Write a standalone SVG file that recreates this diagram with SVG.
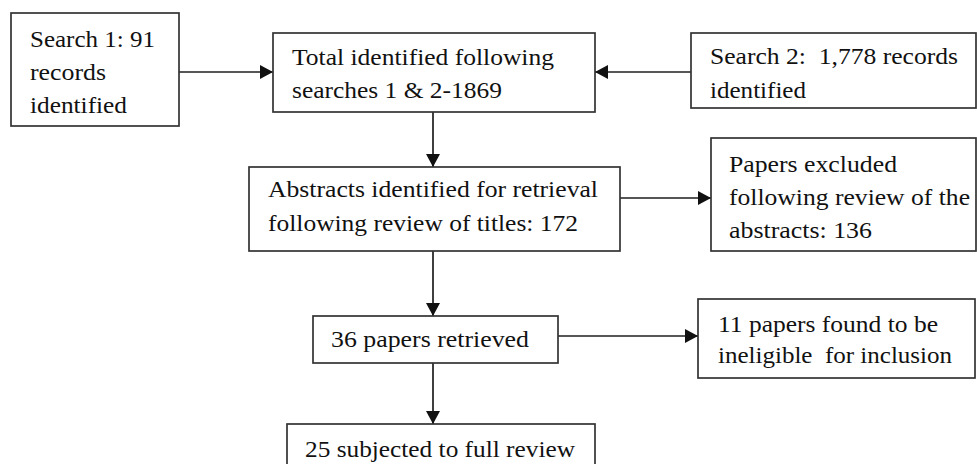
<svg xmlns="http://www.w3.org/2000/svg" width="977" height="464" viewBox="0 0 977 464">
<style>
.box{fill:#fff;stroke:#333;stroke-width:1.7}
.t{font-family:"Liberation Serif","Times New Roman",serif;font-size:24px;fill:#111}
.c{stroke:#1e1e1e;stroke-width:1.7;fill:none}
</style>
<defs>
<marker id="ah" markerUnits="userSpaceOnUse" markerWidth="14" markerHeight="14" refX="13" refY="7" orient="auto">
<path d="M0,0 L13,7 L0,14 Z" fill="#111"/>
</marker>
</defs>
<rect width="977" height="464" fill="#fff"/>
<g id="connectors">
<line class="c" x1="179" y1="72" x2="273" y2="72" marker-end="url(#ah)"/>
<line class="c" x1="691" y1="72" x2="595" y2="72" marker-end="url(#ah)"/>
<line class="c" x1="433" y1="112" x2="433" y2="167" marker-end="url(#ah)"/>
<line class="c" x1="620" y1="198" x2="711" y2="198" marker-end="url(#ah)"/>
<line class="c" x1="433" y1="251" x2="433" y2="316" marker-end="url(#ah)"/>
<line class="c" x1="558" y1="336" x2="698" y2="336" marker-end="url(#ah)"/>
<line class="c" x1="433" y1="363" x2="433" y2="424" marker-end="url(#ah)"/>
</g>
<g id="search1">
<rect class="box" x="11" y="13" width="168" height="113"/>
<text class="t" x="30" y="47" textLength="125" lengthAdjust="spacingAndGlyphs">Search 1: 91</text>
<text class="t" x="30" y="80" textLength="76" lengthAdjust="spacingAndGlyphs">records</text>
<text class="t" x="30" y="113" textLength="97" lengthAdjust="spacingAndGlyphs">identified</text>
</g>
<g id="total">
<rect class="box" x="273" y="33" width="322" height="79"/>
<text class="t" x="292" y="65" textLength="262" lengthAdjust="spacingAndGlyphs">Total identified following</text>
<text class="t" x="292" y="98" textLength="210" lengthAdjust="spacingAndGlyphs">searches 1 &amp; 2-1869</text>
</g>
<g id="search2">
<rect class="box" x="691" y="33" width="285" height="75"/>
<text class="t" x="710" y="64" textLength="248" lengthAdjust="spacingAndGlyphs" xml:space="preserve">Search 2:  1,778 records</text>
<text class="t" x="710" y="98" textLength="96" lengthAdjust="spacingAndGlyphs">identified</text>
</g>
<g id="abstracts">
<rect class="box" x="249" y="167" width="371" height="84"/>
<text class="t" x="268" y="197" textLength="330" lengthAdjust="spacingAndGlyphs">Abstracts identified for retrieval</text>
<text class="t" x="268" y="231" textLength="310" lengthAdjust="spacingAndGlyphs">following review of titles: 172</text>
</g>
<g id="excluded">
<rect class="box" x="711" y="138" width="265" height="113"/>
<text class="t" x="729" y="172" textLength="168" lengthAdjust="spacingAndGlyphs">Papers excluded</text>
<text class="t" x="729" y="205" textLength="241" lengthAdjust="spacingAndGlyphs">following review of the</text>
<text class="t" x="729" y="238" textLength="143" lengthAdjust="spacingAndGlyphs">abstracts: 136</text>
</g>
<g id="retrieved">
<rect class="box" x="313" y="316" width="245" height="47"/>
<text class="t" x="331" y="347" textLength="198" lengthAdjust="spacingAndGlyphs">36 papers retrieved</text>
</g>
<g id="ineligible">
<rect class="box" x="698" y="299" width="277" height="79"/>
<text class="t" x="718" y="332" textLength="220" lengthAdjust="spacingAndGlyphs">11 papers found to be</text>
<text class="t" x="718" y="363" textLength="234" lengthAdjust="spacingAndGlyphs" xml:space="preserve">ineligible  for inclusion</text>
</g>
<g id="fullreview">
<rect class="box" x="287" y="424" width="308" height="50"/>
<text class="t" x="305" y="457" textLength="270" lengthAdjust="spacingAndGlyphs">25 subjected to full review</text>
</g>
</svg>
